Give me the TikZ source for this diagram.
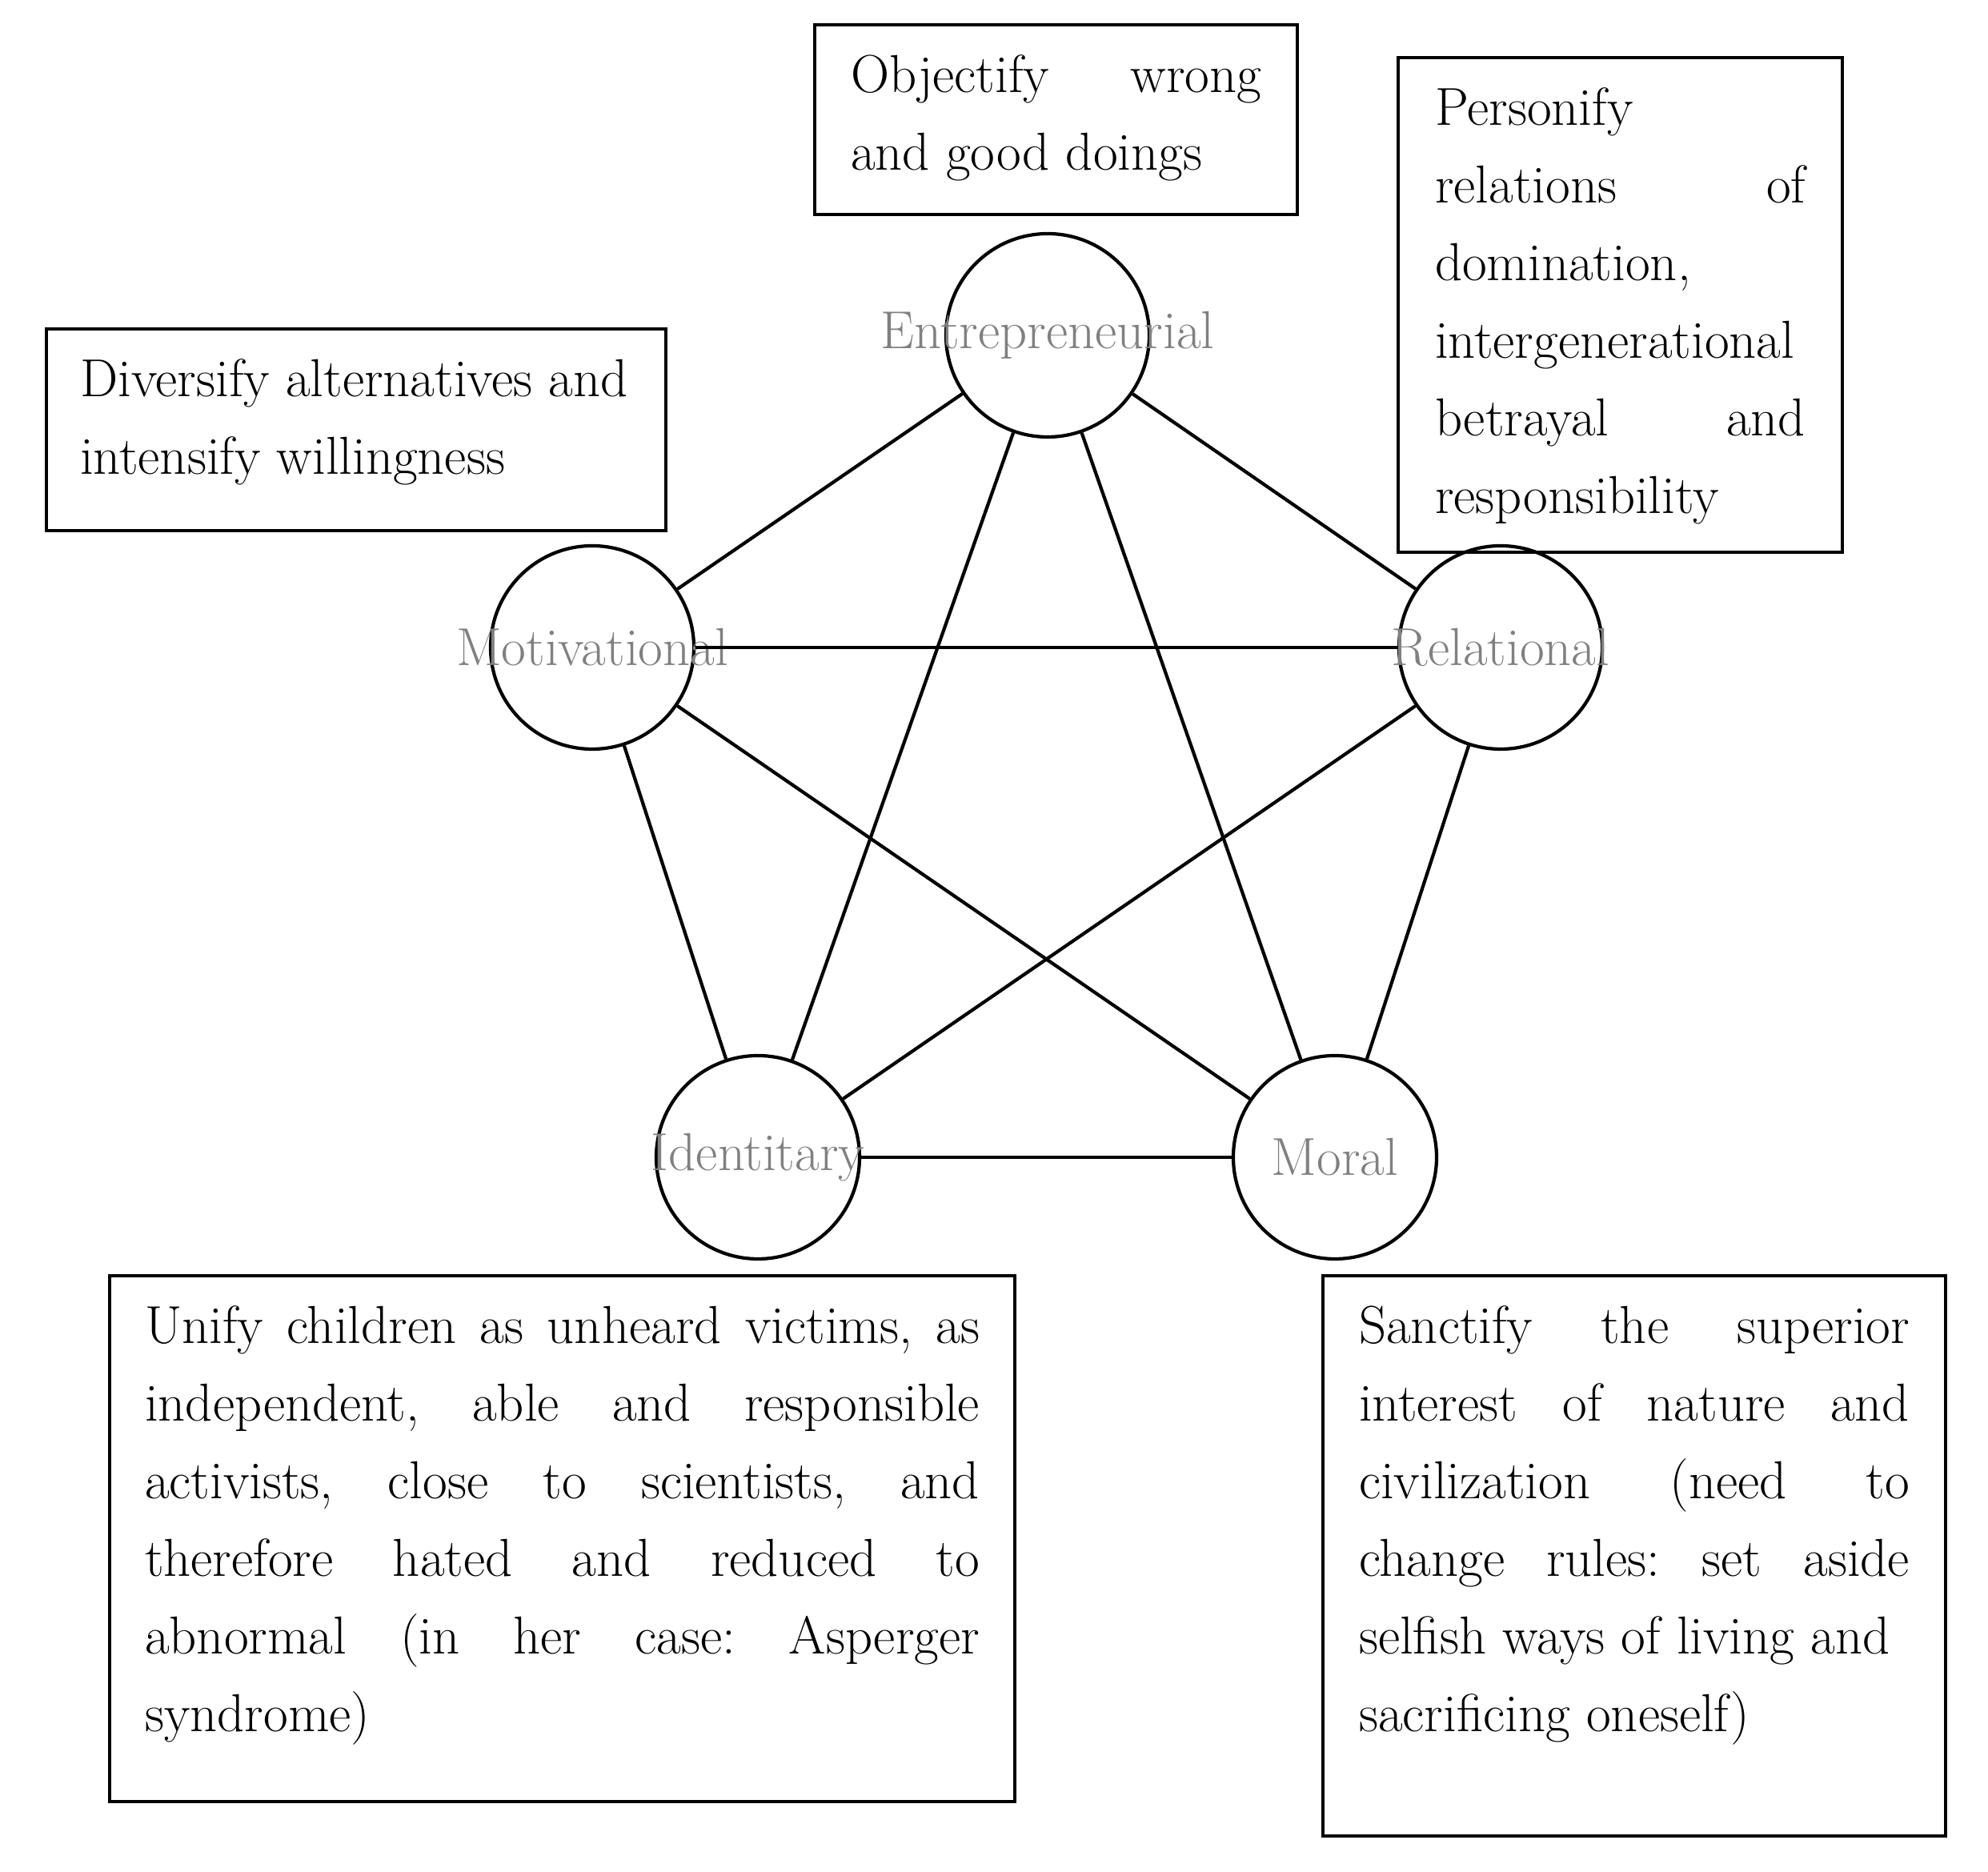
\documentclass[tikz,border=0pt]{standalone}
\usepackage{tikz}
\usetikzlibrary{calc,positioning}
\tikzset{
  dim/.style={circle,draw,very thick,minimum size=2.54cm,inner sep=0pt},
  dimlabel/.style={text=gray,font=\fontsize{19}{22}\selectfont},
  txtbox/.style={rectangle,draw,very thick,anchor=north west,inner ysep=0.38cm,font=\fontsize{19}{27.6}\selectfont},
  link/.style={very thick}
}
\newcommand{\boxtext}[3]{\parbox[c][#2][t]{#1}{\frenchspacing\hyphenpenalty=10000\rightskip=0pt\parfillskip=0pt plus 1fil #3}}
\begin{document}
\begin{tikzpicture}

  \useasboundingbox (0,0) rectangle (24.84,23.39);

  % dimensions
  \node (ent) [dim,label={[dimlabel]center:Entrepreneurial}] at(13.09,19.20) {};
  \node (mot) [dim,label={[dimlabel]center:Motivational}] at(7.40,15.30) {};
  \node (rel) [dim,label={[dimlabel]center:Relational}] at(18.75,15.30) {};
  \node (ide) [dim,label={[dimlabel]center:Identitary}] at(9.47,8.93) {};
  \node (mor) [dim,label={[dimlabel]center:Moral}] at(16.68,8.93) {};

  \foreach \a/\b in {ent/mot,ent/rel,ent/ide,ent/mor,mot/rel,mot/ide,mot/mor,rel/ide,rel/mor,ide/mor}
   {
     \draw [link] (\a) -- (\b);
   }

  % descriptions
  \node (box_ent) [txtbox,inner xsep=0.45cm] at(10.16,23.10)
    {\boxtext{5.13cm}{1.61cm}{Objectify wrong\linebreak and good doings}};
  \node (box_mot) [txtbox,inner xsep=0.42cm] at(0.56,19.30)
    {\boxtext{6.9cm}{1.76cm}{Diversify alternatives and\\ intensify willingness}};
  \node (box_rel) [txtbox,inner xsep=0.46cm] at(17.45,22.69)
    {\boxtext{4.63cm}{5.42cm}{Personify\\ relations of\linebreak domination,\\ intergenerational\\ betrayal and\linebreak responsibility}};
  \node (box_ide) [txtbox,inner xsep=0.44cm] at(1.35,7.47)
    {\boxtext{10.43cm}{5.81cm}{Unify children as unheard victims, as\linebreak independent, able and responsible\linebreak activists, close to scientists, and\linebreak therefore hated and reduced to\linebreak abnormal (in her case: Asperger\linebreak syndrome)}};
  \node (box_mor) [txtbox,inner xsep=0.45cm] at(16.51,7.47)
    {\boxtext{6.88cm}{6.24cm}{Sanctify the superior\linebreak interest of nature and\linebreak civilization (need to\linebreak change rules: set aside\linebreak selfish ways of living and\\ sacrificing oneself)}};

\end{tikzpicture}
\end{document}
